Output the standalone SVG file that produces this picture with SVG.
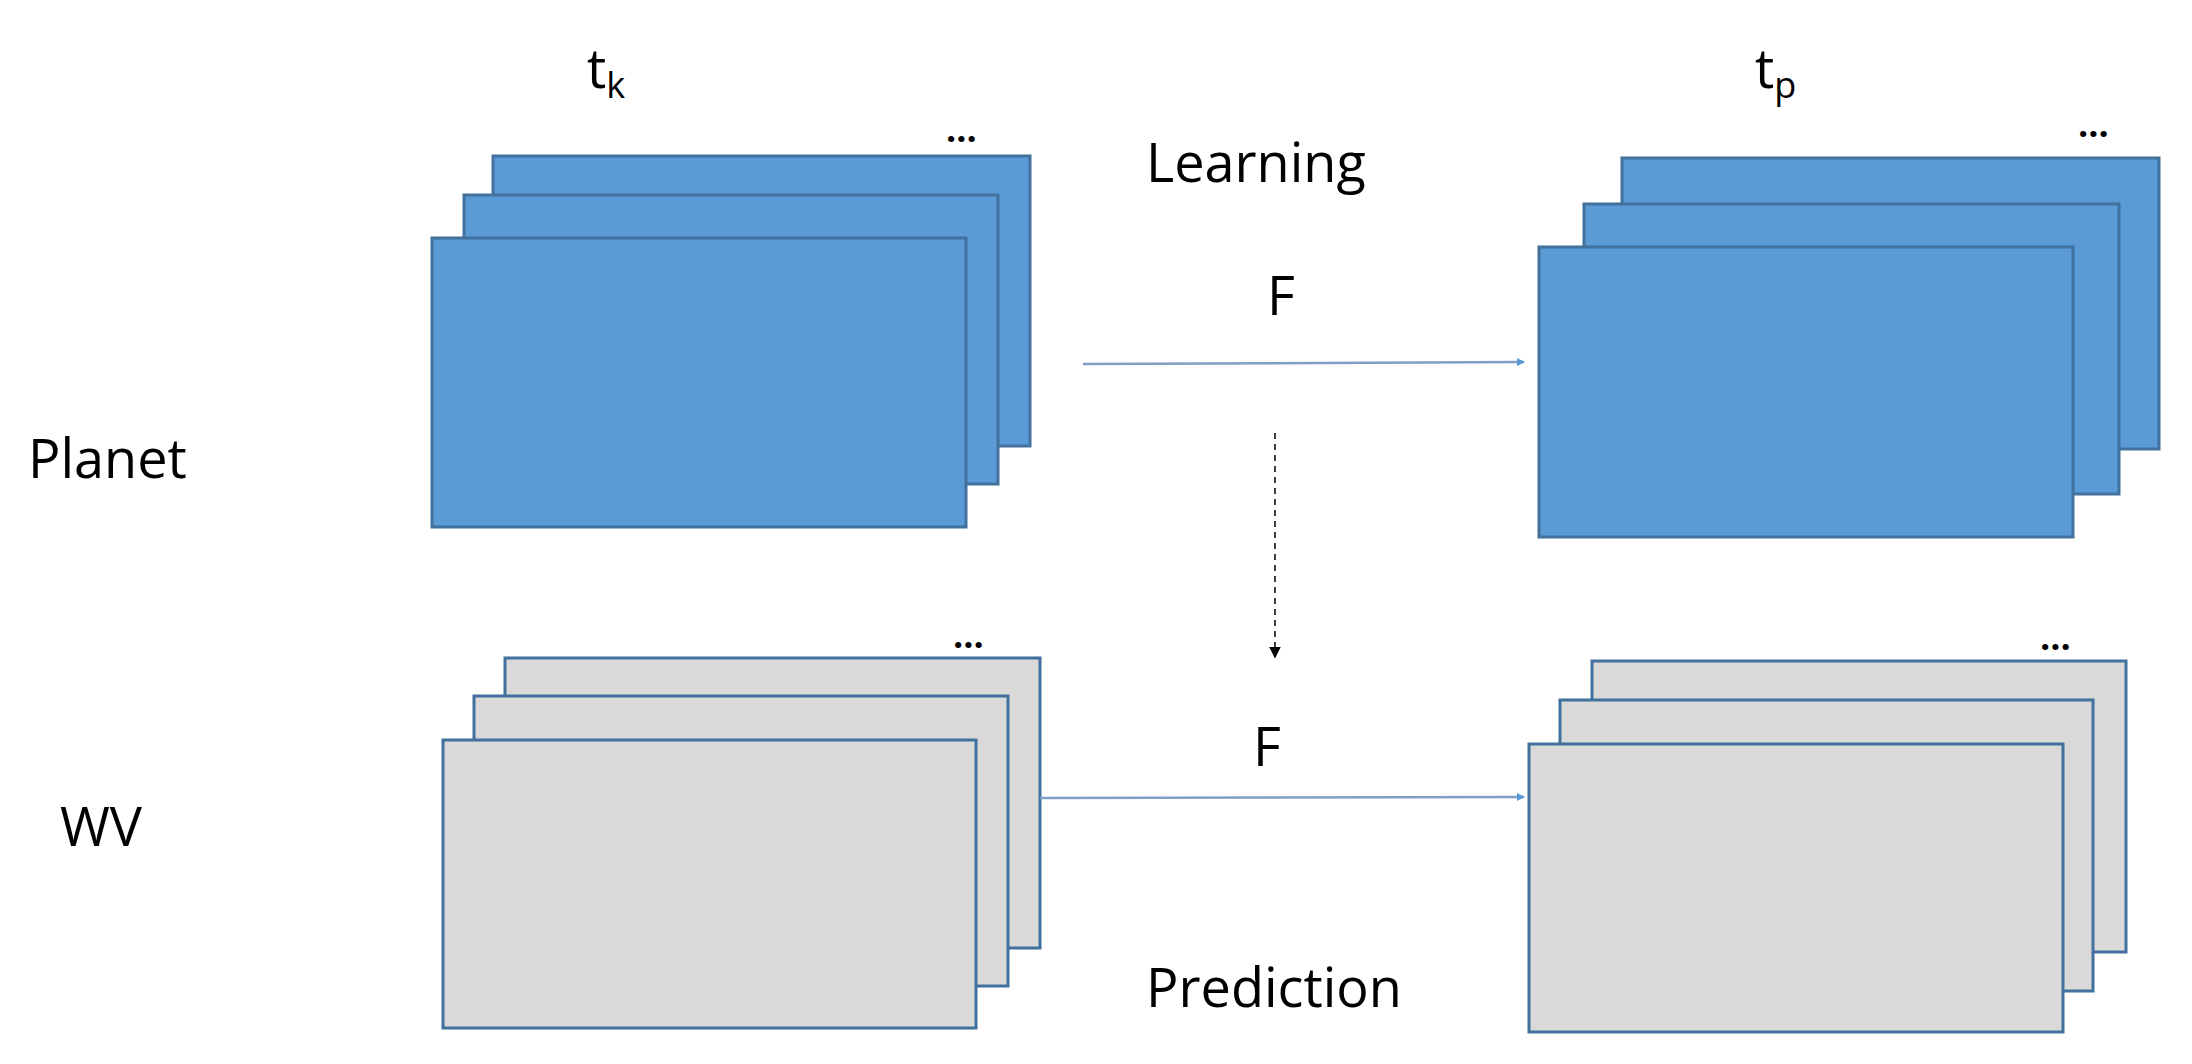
<svg xmlns="http://www.w3.org/2000/svg" width="2192" height="1064" viewBox="0 0 2192 1064">
<style>
.b{fill:#5B9BD5;stroke:#41719C;stroke-width:3}
.g{fill:#D9D9D9;stroke:#41719C;stroke-width:3}
text{font-family:"Open Sans","Liberation Sans",sans-serif;fill:#000}
.l{font-size:54px}
.d{font-size:36px;font-weight:bold}
</style>
<defs>
<marker id="ab" markerWidth="8" markerHeight="8" refX="7" refY="4" orient="auto" markerUnits="userSpaceOnUse" viewBox="0 0 8 8"><path d="M0,0L8,4L0,8z" fill="#5B9BD5"/></marker>
<marker id="ak" markerWidth="8" markerHeight="8" refX="7" refY="4" orient="auto" viewBox="0 0 8 8"><path d="M0,0L8,4L0,8z" fill="#000"/></marker>
</defs>
<rect width="2192" height="1064" fill="#fff"/>
<g id="labels">
<text class="l" x="587" y="88">t<tspan font-size="36" dy="10">k</tspan></text>
<text class="l" x="1755" y="88">t<tspan font-size="36" dy="10">p</tspan></text>
<text class="l" x="1146" y="182">Learning</text>
<text class="l" x="1146" y="1007">Prediction</text>
<text class="l" x="28" y="478">Planet</text>
<text class="l" x="60" y="846">WV</text>
<text class="l" x="1267" y="315">F</text>
<text class="l" x="1253" y="766">F</text>
</g>
<g id="planet-tk">
<rect class="b" x="493" y="156" width="537" height="290"/>
<rect class="b" x="464" y="195" width="534" height="289"/>
<rect class="b" x="432" y="238" width="534" height="289"/>
<text class="d" x="946" y="142">...</text>
</g>
<g id="planet-tp">
<rect class="b" x="1622" y="158" width="537" height="291"/>
<rect class="b" x="1584" y="204" width="535" height="290"/>
<rect class="b" x="1539" y="247" width="534" height="290"/>
<text class="d" x="2078" y="137">...</text>
</g>
<g id="wv-tk">
<rect class="g" x="505" y="658" width="535" height="290"/>
<rect class="g" x="474" y="696" width="534" height="290"/>
<rect class="g" x="443" y="740" width="533" height="288"/>
<text class="d" x="953" y="648">...</text>
</g>
<g id="wv-tp">
<rect class="g" x="1592" y="661" width="534" height="291"/>
<rect class="g" x="1560" y="700" width="533" height="291"/>
<rect class="g" x="1529" y="744" width="534" height="288"/>
<text class="d" x="2040" y="650">...</text>
</g>
<g id="connectors">
<line x1="1083" y1="364" x2="1524" y2="362" stroke="#7F9FC6" stroke-width="2.5" marker-end="url(#ab)" />
<line x1="1040" y1="798" x2="1524" y2="797" stroke="#7F9FC6" stroke-width="2.5" marker-end="url(#ab)"/>
<line x1="1275" y1="433" x2="1275" y2="657" stroke="#000" stroke-width="1.5" stroke-dasharray="6,5" marker-end="url(#ak)"/>
</g>
</svg>
